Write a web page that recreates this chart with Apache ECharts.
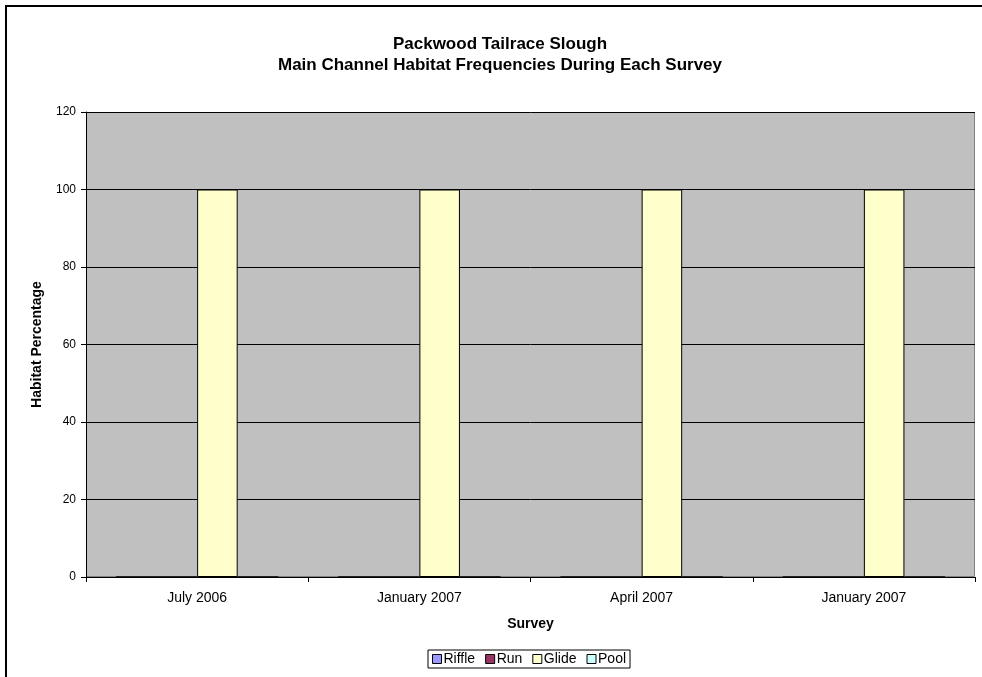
<!DOCTYPE html>
<html>
<head>
<meta charset="utf-8">
<script src="https://cdn.jsdelivr.net/npm/echarts@6/dist/echarts.min.js"></script>
<style>
html,body{margin:0;padding:0;background:#fff;}
#chart{width:982px;height:677px;}
</style>
</head>
<body>
<div id="chart"></div>
<script>
const categories = ["July 2006", "January 2007", "April 2007", "January 2007"];
const seriesNames = ["Riffle", "Run", "Glide", "Pool"];
const riffle = [0, 0, 0, 0];
const run = [0, 0, 0, 0];
const glide = [100, 100, 100, 100];
const pool = [0, 0, 0, 0];
const yTicks = [0, 20, 40, 60, 80, 100, 120];

const colors = ["#9999FF", "#993366", "#FFFFCC", "#CCFFFF"];
const values = [riffle, run, glide, pool];
const font = "Liberation Sans, Arial, sans-serif";

const chart = echarts.init(document.getElementById('chart'), null, {renderer: 'canvas'});
chart.setOption({
  animation: false,
  backgroundColor: '#ffffff',
  graphic: [{
    type: 'rect', z: 100, silent: true,
    shape: {x: 6, y: 6, width: 1000, height: 700},
    style: {fill: 'none', stroke: '#000', lineWidth: 2}
  }, {
    type: 'rect', z: -1, silent: true,
    shape: {x: 86.5, y: 112.5, width: 888, height: 464},
    style: {fill: '#C0C0C0', stroke: '#808080', lineWidth: 1}
  }],
  title: {
    text: 'Packwood Tailrace Slough\nMain Channel Habitat Frequencies During Each Survey',
    left: 495, top: 29, textAlign: 'center',
    textStyle: {fontFamily: font, fontSize: 17, fontWeight: 'bold', color: '#000', lineHeight: 21}
  },
  legend: {
    data: seriesNames,
    left: 428, top: 650,
    itemWidth: 9, itemHeight: 9, itemGap: 10,
    padding: [2, 4, 2, 4],
    borderColor: '#000', borderWidth: 1,
    icon: 'rect',
    textStyle: {fontFamily: font, fontSize: 14, color: '#000', padding: [0, 0, 0, -3]},
    itemStyle: {borderColor: '#000', borderWidth: 1}
  },
  grid: {left: 86, right: 7, top: 112, bottom: 100, containLabel: false},
  xAxis: {
    type: 'category',
    data: categories,
    name: 'Survey',
    nameLocation: 'middle',
    nameGap: 40,
    nameTextStyle: {fontFamily: font, fontSize: 14, fontWeight: 'bold', color: '#000'},
    axisLine: {lineStyle: {color: '#000', width: 1}},
    axisTick: {show: true, length: 5, inside: false, lineStyle: {color: '#000'}},
    axisLabel: {fontFamily: font, fontSize: 14, color: '#000', margin: 14},
    splitLine: {show: false}
  },
  yAxis: {
    type: 'value',
    min: yTicks[0], max: yTicks[yTicks.length - 1], interval: yTicks[1] - yTicks[0],
    name: 'Habitat Percentage',
    nameLocation: 'middle',
    nameGap: 42,
    nameTextStyle: {fontFamily: font, fontSize: 14, fontWeight: 'bold', color: '#000'},
    axisLine: {show: true, lineStyle: {color: '#000', width: 1}},
    axisTick: {show: true, length: 5, lineStyle: {color: '#000'}},
    axisLabel: {fontFamily: font, fontSize: 12, color: '#000', margin: 10},
    splitLine: {show: true, lineStyle: {color: '#000', width: 1}}
  },
  series: seriesNames.map((name, i) => ({
    name: name,
    type: 'bar',
    data: values[i],
    barGap: '0%',
    barCategoryGap: '27%',
    itemStyle: {color: colors[i], borderColor: '#000', borderWidth: 1}
  }))
});
</script>
</body>
</html>
